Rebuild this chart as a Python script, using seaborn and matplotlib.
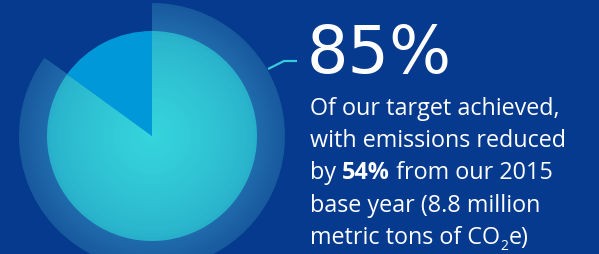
import numpy as np
import matplotlib
matplotlib.use("Agg")
import matplotlib.pyplot as plt
import matplotlib.colors as mcolors
import seaborn as sns

# ======= Data ========
shares = [85, 15]              # target achieved vs. remaining (%)
headline = "85%"
body_lines = [
    [("Of our target achieved,", "normal")],
    [("with emissions reduced", "normal")],
    [("by ", "normal"), ("54%", "bold"), (" from our 2015", "normal")],
    [("base year (8.8 million", "normal")],
    [("metric tons of CO", "normal"), ("2", "sub"), ("e)", "normal")],
]

# ======= Style ========
BG = "#053a8f"
sns.set_theme(style="white", rc={"figure.facecolor": BG, "axes.facecolor": BG})
plt.rcParams["font.family"] = ["Open Sans", "DejaVu Sans"]

W, H = 599, 255
fig = plt.figure(figsize=(W / 100, H / 100), dpi=100)
ax = fig.add_axes([0, 0, 1, 1])
ax.set_xlim(0, W)
ax.set_ylim(0, H)
ax.set_aspect("equal")
ax.axis("off")

cx, cy = 152, H - 137
R_OUT, R_IN = 133, 105


def blend(c1, c2, t):
    a = np.array(mcolors.to_rgb(c1))
    b = np.array(mcolors.to_rgb(c2))
    return tuple(a + (b - a) * t)


# outer ring (achieved share only), soft radial gradient
n = 10
for i in range(n):
    r = R_OUT - (R_OUT - R_IN) * i / n
    col = blend("#185a9e", "#1f6aaa", i / (n - 1))
    ax.pie(shares, radius=r, center=(cx, cy), startangle=90, counterclock=False,
           colors=[col, "none"], wedgeprops=dict(linewidth=0))

# inner disc: achieved in cyan gradient, remaining in blue
n = 30
for i in range(n):
    r = R_IN * (1 - i / n)
    col = blend("#28afca", "#35d4dc", (i / (n - 1)) ** 0.7)
    ax.pie(shares, radius=r, center=(cx, cy), startangle=90, counterclock=False,
           colors=[col, "#0098d8"], wedgeprops=dict(linewidth=0))

ax.set_xlim(0, W)
ax.set_ylim(0, H)

# leader line
ax.plot([268, 284, 297], [H - 70, H - 62, H - 62], color="#38c9da", lw=1.6,
        solid_capstyle="butt")

# headline
ax.text(307, H - 73, headline, color="white", fontsize=47, va="baseline", ha="left",
        family=["DejaVu Sans"])

# body text
fig.canvas.draw()
renderer = fig.canvas.get_renderer()
x0 = 310
baselines = [115, 147, 179, 212, 244]
for parts, base in zip(body_lines, baselines):
    x = x0
    for txt, kind in parts:
        if kind == "sub":
            t = ax.text(x, H - base - 6, txt, color="white", fontsize=10, va="baseline")
        else:
            t = ax.text(x, H - base, txt, color="white", fontsize=16.8, va="baseline",
                        fontweight="bold" if kind == "bold" else "normal")
        x = t.get_window_extent(renderer).x1 + (1 if kind == "sub" else 0)

fig.savefig("out.png", dpi=100, facecolor=BG)
